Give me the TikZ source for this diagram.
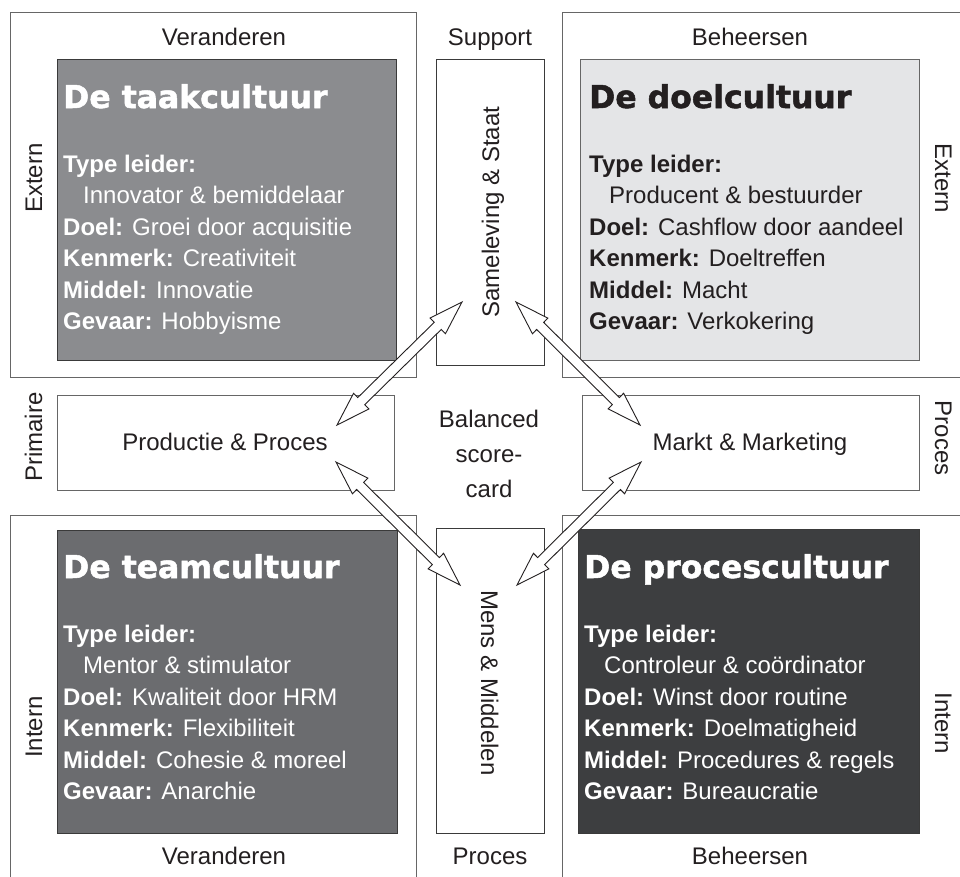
\documentclass[tikz,border=0pt]{standalone}
\usepackage{fontspec}
\setmainfont{Liberation Sans}
\newfontfamily\titlefont{DejaVu Sans}[BoldFeatures={FakeBold=1.6}]
\usetikzlibrary{calc}

\definecolor{frame}{HTML}{666666}
\definecolor{edge}{HTML}{3A3A3A}
\definecolor{taak}{HTML}{8B8C8F}
\definecolor{doel}{HTML}{E4E5E7}
\definecolor{team}{HTML}{6B6C6F}
\definecolor{proc}{HTML}{3D3E40}
\definecolor{ink}{HTML}{231F20}

\tikzset{
  outerframe/.style={draw=frame, line width=1pt},
  cultbox/.style={draw=edge, line width=1pt},
  plainbox/.style={draw=edge, line width=0.9pt, fill=white},
  lbl/.style={inner sep=0pt, anchor=base, text=ink, font=\fontsize{24}{28}\selectfont},
  ttl/.style={inner sep=0pt, anchor=base west, font=\titlefont\bfseries\fontsize{31.5}{36}\selectfont},
  body/.style={inner sep=0pt, anchor=base west, font=\fontsize{24}{28}\selectfont},
  arrowline/.style={draw=ink, line width=0.9pt, fill=white, line join=miter},
}

% hollow double-headed arrow between two named coordinates
\newcommand\hollowarrow[2]{%
  \path ($(#1)!34pt!(#2)$) coordinate (ha) ($(#2)!34pt!(#1)$) coordinate (hb);
  \draw[arrowline] (#1)
    -- ($(ha)!11pt!90:(#2)$) -- ($(ha)!5pt!90:(#2)$)
    -- ($(hb)!5pt!-90:(#1)$) -- ($(hb)!11pt!-90:(#1)$)
    -- (#2)
    -- ($(hb)!11pt!90:(#1)$) -- ($(hb)!5pt!90:(#1)$)
    -- ($(ha)!5pt!-90:(#2)$) -- ($(ha)!11pt!-90:(#2)$)
    -- cycle;
}

\begin{document}
\begin{tikzpicture}[x=1pt, y=-1pt]
\useasboundingbox (0,0) rectangle (960,876);
\clip (0,0) rectangle (960,876);
\fill[white] (0,0) rectangle (960,876);

% outer quadrant frames
\draw[outerframe] (10,12) rectangle (416,377);
\draw[outerframe] (562,12) rectangle (975,377);
\draw[outerframe] (10,515) rectangle (416,895);
\draw[outerframe] (562,515) rectangle (975,895);

% culture boxes
\draw[cultbox, fill=taak] (57,59) rectangle (396,360);
\draw[cultbox, fill=doel, draw=frame] (580,59) rectangle (919,360);
\draw[cultbox, fill=team] (57,530) rectangle (397,833);
\draw[cultbox, fill=proc] (578,529) rectangle (919,833);

% perspective boxes
\draw[plainbox] (436,59) rectangle (544,365);
\draw[plainbox] (436,528) rectangle (544,833);
\draw[plainbox, draw=frame] (57,395) rectangle (394,490);
\draw[plainbox, draw=frame] (582,395) rectangle (919,490);

% axis labels
\node[lbl] (verT) at (224,45) {Veranderen};
\node[lbl] (supT) at (490,45) {Support};
\node[lbl] (behT) at (750,45) {Beheersen};
\node[lbl] (verB) at (224,864) {Veranderen};
\node[lbl] (proB) at (490,864) {Proces};
\node[lbl] (behB) at (750,864) {Beheersen};
\node[lbl, rotate=90] (extL) at (42,178) {Extern};
\node[lbl, rotate=90] (priL) at (42,437) {Primaire};
\node[lbl, rotate=90] (intL) at (42,727) {Intern};
\node[lbl, rotate=-90] (extR) at (935,178) {Extern};
\node[lbl, rotate=-90] (proR) at (935,438) {Proces};
\node[lbl, rotate=-90] (intR) at (935,723) {Intern};

% perspective texts
\node[lbl, rotate=90] (samen) at (499,212) {Sameleving \& Staat};
\node[lbl, rotate=-90] (mens) at (481,683) {Mens \& Middelen};
\node[lbl] (prod) at (225,450) {Productie \& Proces};
\node[lbl] (markt) at (750,450) {Markt \& Marketing};
\node[lbl] (bsc1) at (489,427) {Balanced};
\node[lbl] (bsc2) at (489,462) {score-};
\node[lbl] (bsc3) at (489,497) {card};

% De taakcultuur
\begin{scope}[every node/.append style={text=white}]
\node[ttl] (taakT) at (63,108) {De taakcultuur};
\node[body] (taak1) at (63,172) {\bfseries Type leider:};
\node[body] (taak2) at (83,203.5) {Innovator \& bemiddelaar};
\node[body] (taak3) at (63,235) {\textbf{Doel:} Groei door acquisitie};
\node[body] (taak4) at (63,266.5) {\textbf{Kenmerk:} Creativiteit};
\node[body] (taak5) at (63,298) {\textbf{Middel:} Innovatie};
\node[body] (taak6) at (63,329.5) {\textbf{Gevaar:} Hobbyisme};
\end{scope}

% De doelcultuur
\begin{scope}[every node/.append style={text=ink}]
\node[ttl] (doelT) at (589,108) {De doelcultuur};
\node[body] (doel1) at (589,172) {\bfseries Type leider:};
\node[body] (doel2) at (609,203.5) {Producent \& bestuurder};
\node[body] (doel3) at (589,235) {\textbf{Doel:} Cashflow door aandeel};
\node[body] (doel4) at (589,266.5) {\textbf{Kenmerk:} Doeltreffen};
\node[body] (doel5) at (589,298) {\textbf{Middel:} Macht};
\node[body] (doel6) at (589,329.5) {\textbf{Gevaar:} Verkokering};
\end{scope}

% De teamcultuur
\begin{scope}[every node/.append style={text=white}]
\node[ttl] (teamT) at (63,578) {De teamcultuur};
\node[body] (team1) at (63,642) {\bfseries Type leider:};
\node[body] (team2) at (83,673.5) {Mentor \& stimulator};
\node[body] (team3) at (63,705) {\textbf{Doel:} Kwaliteit door HRM};
\node[body] (team4) at (63,736.5) {\textbf{Kenmerk:} Flexibiliteit};
\node[body] (team5) at (63,768) {\textbf{Middel:} Cohesie \& moreel};
\node[body] (team6) at (63,799.5) {\textbf{Gevaar:} Anarchie};
\end{scope}

% De procescultuur
\begin{scope}[every node/.append style={text=white}]
\node[ttl] (procT) at (584,578) {De procescultuur};
\node[body] (proc1) at (584,642) {\bfseries Type leider:};
\node[body] (proc2) at (604,673.5) {Controleur \& coördinator};
\node[body] (proc3) at (584,705) {\textbf{Doel:} Winst door routine};
\node[body] (proc4) at (584,736.5) {\textbf{Kenmerk:} Doelmatigheid};
\node[body] (proc5) at (584,768) {\textbf{Middel:} Procedures \& regels};
\node[body] (proc6) at (584,799.5) {\textbf{Gevaar:} Bureaucratie};
\end{scope}

% arrow end points
\coordinate (sL) at (462,302);
\coordinate (sR) at (516,302);
\coordinate (pT) at (337,425);
\coordinate (pB) at (336,462);
\coordinate (mT) at (640,425);
\coordinate (mB) at (641,462);
\coordinate (hL) at (460,585);
\coordinate (hR) at (517,585);

\hollowarrow{sL}{pT}
\hollowarrow{sR}{mT}
\hollowarrow{pB}{hL}
\hollowarrow{mB}{hR}
\end{tikzpicture}
\end{document}
